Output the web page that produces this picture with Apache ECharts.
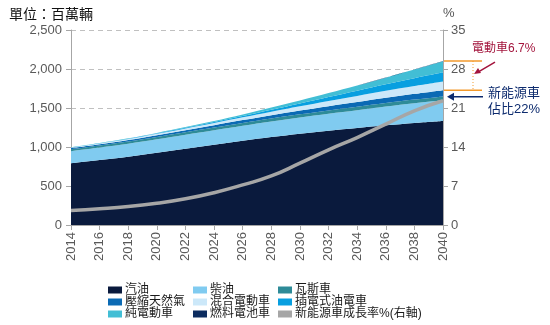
<!DOCTYPE html>
<html>
<head>
<meta charset="utf-8">
<script src="https://cdn.jsdelivr.net/npm/echarts@6/dist/echarts.min.js"></script>
<style>
  html, body { margin: 0; padding: 0; background: #fff; }
  #chart { width: 550px; height: 325px; }
</style>
</head>
<body>
<div id="chart"></div>
<script>
// Global vehicle stock outlook (millions of vehicles), stacked by powertrain
const years = ['2014','2016','2018','2020','2022','2024','2026','2028','2030','2032','2034','2036','2038','2040'];
const gasoline   = [791, 833, 876, 927, 979, 1030, 1081, 1128, 1171, 1209, 1244, 1278, 1308, 1333];
const diesel     = [155, 160, 166, 172, 178, 185, 192, 200, 208, 218, 228, 240, 252, 266];
const lpg        = [25, 26, 28, 30, 32, 34, 36, 38, 40, 42, 44, 46, 48, 50];
const cng        = [15, 17, 20, 23, 27, 31, 36, 42, 48, 55, 62, 68, 74, 80];
const hybrid     = [8, 10, 13, 17, 22, 28, 35, 44, 54, 65, 76, 88, 99, 110];
const plugin     = [2, 3, 4, 6, 9, 13, 19, 27, 38, 52, 68, 84, 102, 120];
const battery    = [2, 3, 4, 6, 8, 12, 18, 26, 36, 50, 66, 85, 110, 141];
const fuelCell   = [0, 0, 0, 0, 0, 0, 0, 0, 1, 1, 1, 1, 2, 2];
// New-energy vehicle share, % (right axis)
const nevShare   = [2.6, 2.9, 3.3, 3.9, 4.7, 5.8, 7.2, 8.8, 11.1, 13.5, 15.7, 18.1, 20.5, 22.3];

const leftTicks = [0, 500, 1000, 1500, 2000, 2500];
const rightTicks = [0, 7, 14, 21, 28, 35];

const names = ['汽油','柴油','瓦斯車','壓縮天然氣','混合電動車','插電式油電車','純電動車','燃料電池車'];
const layers = [gasoline, diesel, lpg, cng, hybrid, plugin, battery, fuelCell];
const colors = ['#0a1a3d','#80cbf0','#2e8b98','#0b6ab4','#cce8f9','#089fe0','#42bed5','#0d2d60'];
const lineName = '新能源車成長率%(右軸)';

const FONT = '"Liberation Sans", Arial, "Noto Sans CJK TC", sans-serif';
const chart = echarts.init(document.getElementById('chart'), null, { renderer: 'canvas' });

const areaSeries = names.map((n, i) => ({
  name: n,
  type: 'line',
  stack: 'stock',
  data: layers[i],
  smooth: 0.35,
  showSymbol: false,
  symbol: 'none',
  lineStyle: { width: 0 },
  areaStyle: { color: colors[i], opacity: 1 },
  itemStyle: { color: colors[i] },
  emphasis: { disabled: true },
  z: 2
}));

// Legend laid out as three rows of three fixed-width entries
const legendItems = names.concat([lineName]);
const legendRows = [0, 1, 2].map(r => ({
  orient: 'horizontal',
  left: 108,
  top: 284 + r * 12,
  padding: 0,
  itemWidth: 14,
  itemHeight: 7,
  itemGap: 0,
  icon: 'rect',
  selectedMode: false,
  data: legendItems.slice(r * 3, r * 3 + 3),
  textStyle: { fontSize: 12, lineHeight: 12, width: 68, color: '#1a1a1a', fontFamily: FONT, padding: [0, 0, 0, -2] }
}));

chart.setOption({
  animation: false,
  backgroundColor: '#fff',
  grid: { left: 71, right: 107, top: 30, bottom: 100, containLabel: false },
  title: [
    { text: '單位：百萬輛', left: 4, top: 3, textStyle: { fontSize: 14, fontWeight: 'normal', color: '#111', fontFamily: FONT } },
    { text: '%', left: 438, top: 2, textStyle: { fontSize: 13, fontWeight: 'normal', color: '#555', fontFamily: FONT } }
  ],
  legend: legendRows,
  xAxis: {
    type: 'category',
    data: years,
    boundaryGap: false,
    axisLine: { lineStyle: { color: '#a6a6a6', width: 1 } },
    axisTick: { show: true, alignWithLabel: true, length: 5, lineStyle: { color: '#a6a6a6' } },
    axisLabel: { rotate: 90, fontSize: 13, color: '#595959', fontFamily: FONT, margin: 7, interval: 0 },
    splitLine: { show: false }
  },
  yAxis: [
    {
      type: 'value', min: leftTicks[0], max: leftTicks[leftTicks.length - 1], interval: 500,
      axisLine: { show: true, lineStyle: { color: '#a6a6a6' } },
      axisTick: { show: true, length: 5, lineStyle: { color: '#a6a6a6' } },
      axisLabel: { fontSize: 13, color: '#595959', fontFamily: FONT, margin: 9,
        formatter: v => v.toLocaleString('en-US') },
      splitLine: { show: true, lineStyle: { color: '#c0c0c0', type: [5, 4], width: 1 } }
    },
    {
      type: 'value', min: rightTicks[0], max: rightTicks[rightTicks.length - 1], interval: 7,
      position: 'right',
      axisLine: { show: true, lineStyle: { color: '#a6a6a6' } },
      axisTick: { show: true, length: 5, lineStyle: { color: '#a6a6a6' } },
      axisLabel: { fontSize: 13, color: '#595959', fontFamily: FONT, margin: 8 },
      splitLine: { show: false }
    }
  ],
  series: areaSeries.concat([{
    name: lineName,
    type: 'line',
    yAxisIndex: 1,
    data: nevShare,
    smooth: true,
    showSymbol: false,
    symbol: 'none',
    lineStyle: { width: 3.5, color: '#a6a6a6' },
    itemStyle: { color: '#a6a6a6' },
    emphasis: { disabled: true },
    z: 5
  }])
});

// Callouts at the 2040 end: EV band bracket and new-energy share arrow
const last = years.length - 1;
const total2040 = layers.reduce((s, a) => s + a[last], 0);
const baseEV = gasoline[last] + diesel[last] + lpg[last] + cng[last];
const xEnd = chart.convertToPixel({ xAxisIndex: 0 }, years[last]);
const yTop = chart.convertToPixel({ yAxisIndex: 0 }, total2040);
const yBase = chart.convertToPixel({ yAxisIndex: 0 }, baseEV);
const yShare = chart.convertToPixel({ yAxisIndex: 1 }, nevShare[last]);
const orange = '#f39a2c';
const red = '#a3143c';
const navy = '#0d2b6e';

chart.setOption({
  graphic: [
    { type: 'line', shape: { x1: xEnd + 1, y1: yTop, x2: xEnd + 39, y2: yTop }, style: { stroke: orange, lineWidth: 1.5 }, z: 10 },
    { type: 'line', shape: { x1: xEnd + 1, y1: yBase, x2: xEnd + 39, y2: yBase }, style: { stroke: orange, lineWidth: 1.5 }, z: 10 },
    { type: 'line', shape: { x1: xEnd + 30, y1: yTop, x2: xEnd + 30, y2: yBase }, style: { stroke: orange, lineWidth: 1, lineDash: [1, 2] }, z: 10 },
    { type: 'text', x: xEnd + 29, y: yTop - 18, style: { text: '電動車6.7%', fill: red, fontSize: 12, fontFamily: FONT } },
    { type: 'line', shape: { x1: xEnd + 52, y1: yTop + 1, x2: xEnd + 35, y2: yTop + 11 }, style: { stroke: red, lineWidth: 1.5 }, z: 10 },
    { type: 'polygon', shape: { points: [[xEnd + 31, yTop + 13], [xEnd + 35, yTop + 7], [xEnd + 38, yTop + 12]] }, style: { fill: red }, z: 10 },
    { type: 'text', x: xEnd + 45, y: yShare - 15, style: { text: '新能源車\n佔比22%', fill: navy, fontSize: 13, lineHeight: 16, fontFamily: FONT } },
    { type: 'line', shape: { x1: xEnd + 40, y1: yShare - 4, x2: xEnd + 9, y2: yShare - 4 }, style: { stroke: navy, lineWidth: 1.5 }, z: 10 },
    { type: 'polygon', shape: { points: [[xEnd + 4, yShare - 4], [xEnd + 11, yShare - 8], [xEnd + 11, yShare]] }, style: { fill: navy }, z: 10 }
  ]
});
</script>
</body>
</html>
